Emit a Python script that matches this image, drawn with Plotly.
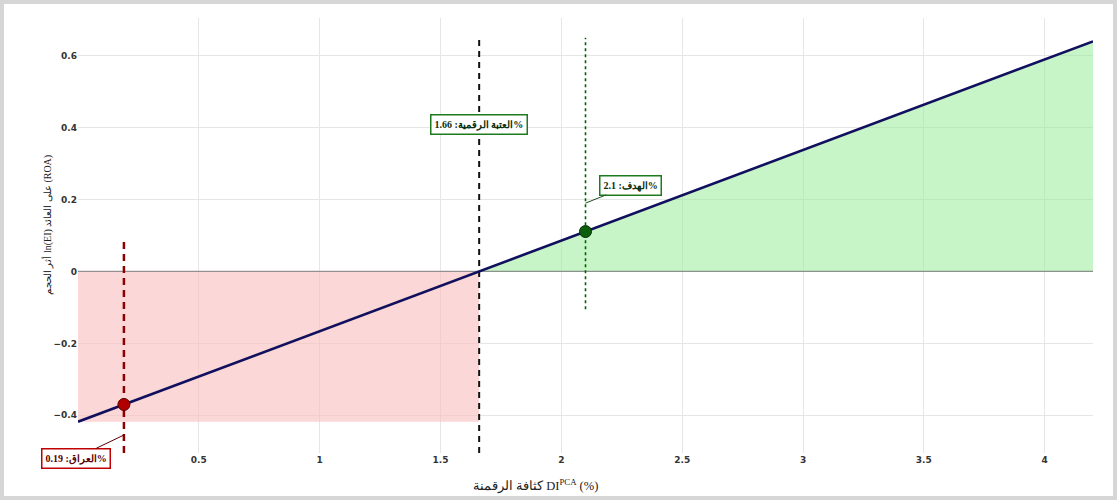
import plotly.graph_objects as go

# ---- data ----
line_x = [0.0, 1.66, 4.2]
line_y = [-0.418, 0.0, 0.640]

threshold_x = 1.66
iraq_x, iraq_y = 0.19, -0.37
target_x, target_y = 2.1, 0.111

pink_x = [0.0, 1.66, 1.66, 0.0, 0.0]
pink_y = [-0.418, -0.418, 0.0, 0.0, -0.418]

green_x = [1.66, 4.2]
green_y = [0.0, 0.640]

thr_seg_y = [-0.505, 0.65]
iraq_seg_y = [-0.505, 0.09]
target_seg_y = [-0.105, 0.65]

x_ticks = [0.5, 1, 1.5, 2, 2.5, 3, 3.5, 4]
x_tick_text = ["0.5", "1", "1.5", "2", "2.5", "3", "3.5", "4"]
y_ticks = [-0.4, -0.2, 0, 0.2, 0.4, 0.6]
y_tick_text = ["\u22120.4", "\u22120.2", "0", "0.2", "0.4", "0.6"]

x_title = "كثافة الرقمنة DI<sup>PCA</sup> (%)"
y_title = "أثر الحجم ln(EI) على العائد (ROA)"
iraq_label = "العراق: 0.19%"
target_label = "الهدف: 2.1%"
threshold_label = "العتبة الرقمية: 1.66%"

fig = go.Figure()

fig.add_trace(go.Scatter(x=pink_x, y=pink_y, fill="toself", mode="none",
                         fillcolor="rgba(250,190,190,0.62)", hoverinfo="skip", showlegend=False))
fig.add_trace(go.Scatter(x=green_x, y=green_y, fill="tozeroy", mode="none",
                         fillcolor="rgba(150,235,150,0.52)", hoverinfo="skip", showlegend=False))
fig.add_trace(go.Scatter(x=[0, 4.2], y=[0, 0], mode="lines",
                         line=dict(color="rgba(110,110,110,0.7)", width=1.2),
                         hoverinfo="skip", showlegend=False))
fig.add_trace(go.Scatter(x=[threshold_x, threshold_x], y=thr_seg_y, mode="lines",
                         line=dict(color="#111111", width=2, dash="6px,5px"), showlegend=False))
fig.add_trace(go.Scatter(x=[iraq_x, iraq_x], y=iraq_seg_y, mode="lines",
                         line=dict(color="#8b0000", width=2.5, dash="7px,5px"), showlegend=False))
fig.add_trace(go.Scatter(x=[target_x, target_x], y=target_seg_y, mode="lines",
                         line=dict(color="#006400", width=1.6, dash="dot"), showlegend=False))
fig.add_trace(go.Scatter(x=line_x, y=line_y, mode="lines",
                         line=dict(color="#10105e", width=2.6), showlegend=False))
fig.add_trace(go.Scatter(x=[iraq_x], y=[iraq_y], mode="markers",
                         marker=dict(color="#b00000", size=12, line=dict(color="#5a0000", width=1)),
                         showlegend=False))
fig.add_trace(go.Scatter(x=[target_x], y=[target_y], mode="markers",
                         marker=dict(color="#0b5e0b", size=12, line=dict(color="#053005", width=1)),
                         showlegend=False))

ann_font = dict(family="Liberation Serif, DejaVu Serif, serif", size=10, weight="bold")

fig.add_annotation(x=iraq_x, y=-0.455, text=iraq_label, showarrow=True, arrowhead=0,
                   arrowcolor="#5a0000", arrowwidth=1, ax=-48, ay=23,
                   bgcolor="white", bordercolor="#c00000", borderwidth=1.5, borderpad=3,
                   font=dict(color="#5a0000", **ann_font))
fig.add_annotation(x=target_x, y=0.19, text=target_label, showarrow=True, arrowhead=0,
                   arrowcolor="#1e4d1e", arrowwidth=1, ax=45, ay=-18,
                   bgcolor="white", bordercolor="#1d7a1d", borderwidth=1.5, borderpad=3,
                   font=dict(color="#0a300a", **ann_font))
fig.add_annotation(x=threshold_x, y=0.41, text=threshold_label, showarrow=False,
                   bgcolor="white", bordercolor="#1d7a1d", borderwidth=1.5, borderpad=3,
                   font=dict(color="#0a300a", **ann_font))

fig.add_annotation(xref="paper", yref="paper", x=(535 - 78) / 1015, y=(453 - 486) / 435,
                   xanchor="center", yanchor="middle", text=x_title, showarrow=False,
                   font=dict(family="Liberation Serif, DejaVu Serif, serif", size=12.5, color="#222222"))
fig.add_annotation(xref="paper", yref="paper", x=(48 - 78) / 1015, y=(453 - 225) / 435,
                   xanchor="center", yanchor="middle", text=y_title, showarrow=False, textangle=-90,
                   font=dict(family="Liberation Serif, DejaVu Serif, serif", size=10, color="#222222"))

fig.add_shape(type="rect", xref="paper", yref="paper",
              x0=(2 - 78) / 1015, x1=(1115 - 78) / 1015,
              y0=(453 - 498) / 435, y1=(453 - 2) / 435,
              line=dict(color="#d6d6d6", width=4), layer="below")

tick_font = dict(family="DejaVu Sans, Verdana, sans-serif", size=9, color="#333333", weight="bold")
fig.update_xaxes(range=[0, 4.2], tickvals=x_ticks, ticktext=x_tick_text, showgrid=True,
                 gridcolor="#e6e6e6", gridwidth=1, zeroline=False, showline=False,
                 tickfont=tick_font, ticks="")
fig.update_yaxes(range=[-0.505, 0.705], tickvals=y_ticks, ticktext=y_tick_text, showgrid=True,
                 gridcolor="#e6e6e6", gridwidth=1, zeroline=False, showline=False,
                 tickfont=tick_font, ticks="")

fig.update_layout(width=1117, height=500,
                  margin=dict(l=78, r=24, t=18, b=47, autoexpand=False),
                  plot_bgcolor="white", paper_bgcolor="white", showlegend=False)

fig.write_html("out.html", config={"displayModeBar": False},
               post_script="document.body.style.margin='0px';"
                           "document.documentElement.style.overflow='hidden';")
